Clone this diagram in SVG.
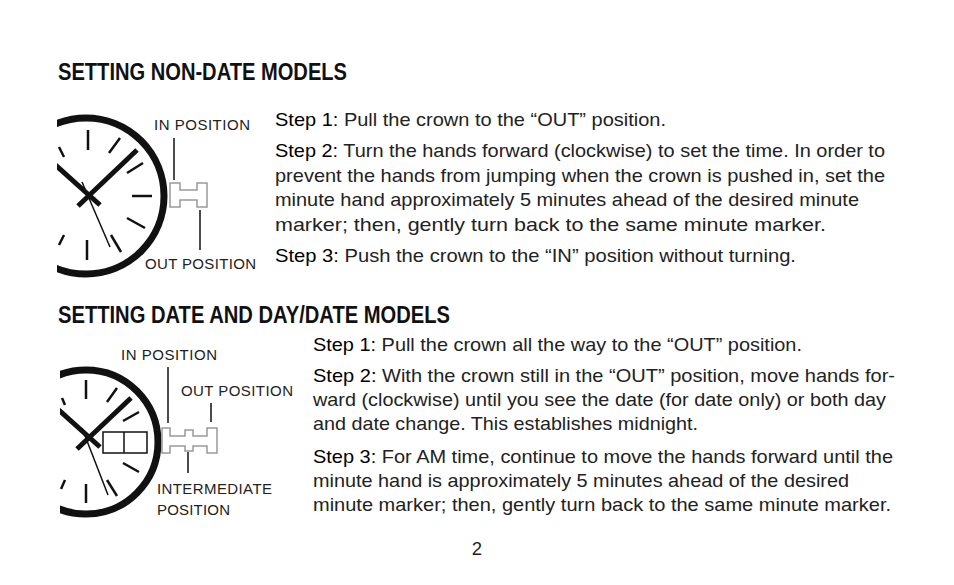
<svg xmlns="http://www.w3.org/2000/svg" width="954" height="585" viewBox="0 0 954 585">
<style>
.h{font-family:"Liberation Sans",Arial,sans-serif;font-weight:bold;font-size:24px;fill:#111}
.b{font-family:"Liberation Sans",Arial,sans-serif;font-size:18.5px;fill:#222}
.s{fill:#000}
.l{font-family:"Liberation Sans",Arial,sans-serif;font-size:15px;fill:#222}
.tk{stroke:#111;stroke-width:2.5;stroke-linecap:butt}
.ln{stroke:#111;stroke-width:1.5}
.cr{fill:#fff;stroke:#999;stroke-width:1.5}
</style>
<defs>
<clipPath id="c1"><rect x="57" y="100" width="200" height="190"/></clipPath>
<clipPath id="c2"><rect x="60" y="350" width="200" height="180"/></clipPath>
</defs>
<rect width="954" height="585" fill="#fff"/>
<text class="h" x="58" y="80" textLength="289" lengthAdjust="spacingAndGlyphs">SETTING NON-DATE MODELS</text>
<text class="h" x="58" y="323" textLength="392" lengthAdjust="spacingAndGlyphs">SETTING DATE AND DAY/DATE MODELS</text>
<g id="watch1" clip-path="url(#c1)">
<circle cx="86" cy="196" r="78" fill="none" stroke="#111" stroke-width="7"/>
<g class="tk">
<line x1="88" y1="130" x2="88" y2="150"/><line x1="109" y1="153" x2="120" y2="138"/>
<line x1="127" y1="173" x2="143" y2="163"/><line x1="132" y1="196" x2="152" y2="196"/>
<line x1="127" y1="218" x2="145" y2="228"/><line x1="111" y1="235" x2="121" y2="252"/>
<line x1="87" y1="240" x2="87" y2="260"/><line x1="64" y1="235" x2="59" y2="245"/>
<line x1="59" y1="147" x2="64" y2="157"/>
</g>
<line x1="78" y1="206" x2="137" y2="150" stroke="#111" stroke-width="5"/>
<line x1="100" y1="205" x2="50" y2="160" stroke="#111" stroke-width="5"/>
<line x1="82" y1="182" x2="110" y2="247" stroke="#111" stroke-width="1.5"/>
</g>
<g id="crown1">
<path class="cr" d="M170,183 H180 V190 H197 V183 H207 V207 H197 V200 H180 V207 H170 Z"/>
<line class="ln" x1="174" y1="138" x2="174" y2="180"/>
<line class="ln" x1="200" y1="210" x2="200" y2="250"/>
<text class="l" x="154" y="130" textLength="96">IN POSITION</text>
<text class="l" x="145" y="269" textLength="111">OUT POSITION</text>
</g>
<g id="watch2" clip-path="url(#c2)">
<circle cx="86" cy="442" r="72" fill="none" stroke="#111" stroke-width="7"/>
<g class="tk">
<line x1="86" y1="380" x2="86" y2="399"/><line x1="107" y1="402" x2="117" y2="388"/>
<line x1="123" y1="421" x2="139" y2="412"/>
<line x1="123" y1="463" x2="139" y2="472"/><line x1="107" y1="480" x2="117" y2="496"/>
<line x1="86" y1="484" x2="86" y2="503"/><line x1="65" y1="480" x2="61" y2="489"/>
<line x1="62" y1="398" x2="65" y2="405"/>
</g>
<rect x="103" y="432" width="44" height="21" fill="#fff" stroke="#111" stroke-width="1.5"/>
<line x1="124" y1="432" x2="124" y2="453" stroke="#111" stroke-width="1.5"/>
<line x1="77" y1="449" x2="131" y2="398" stroke="#111" stroke-width="5"/>
<line x1="100" y1="447" x2="52" y2="404" stroke="#111" stroke-width="5"/>
<line x1="82" y1="428" x2="108" y2="495" stroke="#111" stroke-width="1.5"/>
</g>
<g id="crown2">
<path class="cr" d="M162,428 H170 V436 H185 V430 H193 V436 H207 V428 H217 V453 H207 V446 H193 V451 H185 V446 H170 V453 H162 Z"/>
<line class="ln" x1="168" y1="367" x2="168" y2="423" stroke-width="2"/>
<line class="ln" x1="211" y1="403" x2="211" y2="422" stroke-width="2"/>
<line class="ln" x1="188" y1="452" x2="188" y2="473" stroke-width="2"/>
<text class="l" x="121" y="360" textLength="96">IN POSITION</text>
<text class="l" x="181" y="396" textLength="112">OUT POSITION</text>
<text class="l" x="157" y="494" textLength="115">INTERMEDIATE</text>
<text class="l" x="157" y="515" textLength="73">POSITION</text>
</g>
<g id="text1">
<text class="b" x="275" y="126" textLength="391" lengthAdjust="spacingAndGlyphs"><tspan class="s">Step 1:</tspan> Pull the crown to the “OUT” position.</text>
<text class="b" x="275" y="157" textLength="610" lengthAdjust="spacingAndGlyphs"><tspan class="s">Step 2:</tspan> Turn the hands forward (clockwise) to set the time. In order to</text>
<text class="b" x="275" y="182" textLength="610" lengthAdjust="spacingAndGlyphs">prevent the hands from jumping when the crown is pushed in, set the</text>
<text class="b" x="275" y="206" textLength="584" lengthAdjust="spacingAndGlyphs">minute hand approximately 5 minutes ahead of the desired minute</text>
<text class="b" x="275" y="231" textLength="551" lengthAdjust="spacingAndGlyphs">marker; then, gently turn back to the same minute marker.</text>
<text class="b" x="275" y="262" textLength="521" lengthAdjust="spacingAndGlyphs"><tspan class="s">Step 3:</tspan> Push the crown to the “IN” position without turning.</text>
</g>
<g id="text2">
<text class="b" x="313" y="351" textLength="489" lengthAdjust="spacingAndGlyphs"><tspan class="s">Step 1:</tspan> Pull the crown all the way to the “OUT” position.</text>
<text class="b" x="313" y="382" textLength="582" lengthAdjust="spacingAndGlyphs"><tspan class="s">Step 2:</tspan> With the crown still in the “OUT” position, move hands for-</text>
<text class="b" x="313" y="406" textLength="573" lengthAdjust="spacingAndGlyphs">ward (clockwise) until you see the date (for date only) or both day</text>
<text class="b" x="313" y="430" textLength="385" lengthAdjust="spacingAndGlyphs">and date change. This establishes midnight.</text>
<text class="b" x="313" y="463" textLength="580" lengthAdjust="spacingAndGlyphs"><tspan class="s">Step 3:</tspan> For AM time, continue to move the hands forward until the</text>
<text class="b" x="313" y="487" textLength="536" lengthAdjust="spacingAndGlyphs">minute hand is approximately 5 minutes ahead of the desired</text>
<text class="b" x="313" y="511" textLength="578" lengthAdjust="spacingAndGlyphs">minute marker; then, gently turn back to the same minute marker.</text>
</g>
<text class="b" x="477" y="555" text-anchor="middle">2</text>
</svg>
